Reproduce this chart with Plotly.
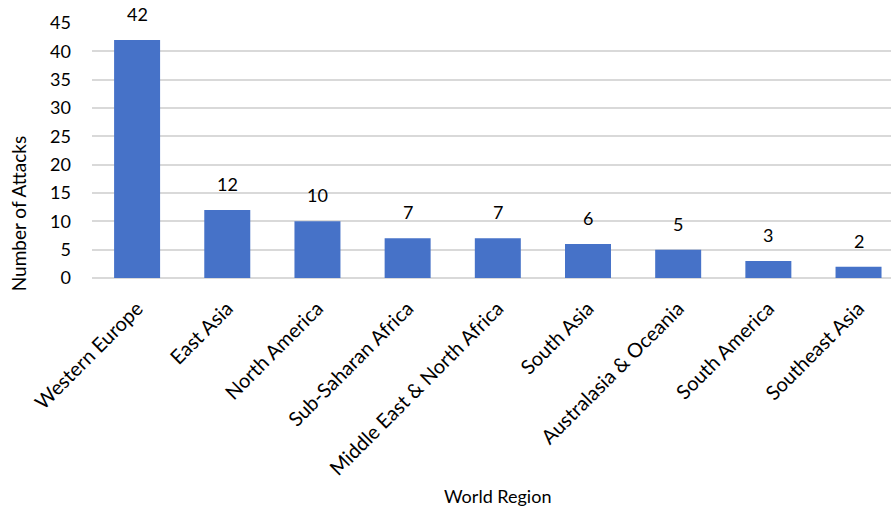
import plotly.graph_objects as go

regions = ["Western Europe", "East Asia", "North America", "Sub-Saharan Africa",
           "Middle East & North Africa", "South Asia", "Australasia & Oceania",
           "South America", "Southeast Asia"]
attacks = [42, 12, 10, 7, 7, 6, 5, 3, 2]
y_ticks = [0, 5, 10, 15, 20, 25, 30, 35, 40, 45]

FONT = "Lato, Open Sans, sans-serif"
x_pos = list(range(len(regions)))

fig = go.Figure(go.Bar(
    x=x_pos,
    y=attacks,
    width=0.51,
    marker=dict(color="#4672c8", line=dict(width=0)),
    cliponaxis=False,
))

# value labels floating above each bar
for xi, v in zip(x_pos, attacks):
    fig.add_annotation(x=xi, y=v, text=str(v), showarrow=False,
                       yanchor="bottom", yshift=13,
                       font=dict(size=18, color="#000000", family=FONT))

# axis titles
fig.add_annotation(xref="paper", yref="paper", x=0.508, y=-0.855,
                   text="World Region", showarrow=False,
                   xanchor="center", yanchor="middle",
                   font=dict(size=18, color="#000000", family=FONT))
fig.add_annotation(xref="paper", yref="paper", x=-0.0926, y=0.25,
                   text="Number of Attacks", showarrow=False, textangle=-90,
                   xanchor="center", yanchor="middle",
                   font=dict(size=19, color="#000000", family=FONT))

fig.update_layout(
    width=891, height=509,
    margin=dict(l=92, r=0, t=23, b=231),
    paper_bgcolor="white", plot_bgcolor="white",
    showlegend=False,
    font=dict(family=FONT, color="#000000"),
    xaxis=dict(
        tickmode="array",
        tickvals=x_pos,
        ticktext=regions,
        tickangle=-45,
        tickfont=dict(size=20, family=FONT),
        ticklabelstandoff=14,
        range=[-0.5, 8.36],
        showgrid=False, zeroline=False, showline=False,
        ticks="",
    ),
    yaxis=dict(
        range=[0, 45],
        tickvals=y_ticks,
        tickfont=dict(size=18, family=FONT),
        showgrid=True, gridcolor="#d9d9d9", gridwidth=1.8,
        zeroline=True, zerolinecolor="#d9d9d9", zerolinewidth=1.8,
        showline=False, ticks="",
        ticklabelstandoff=20,
    ),
)

fig.write_html("out.html")
